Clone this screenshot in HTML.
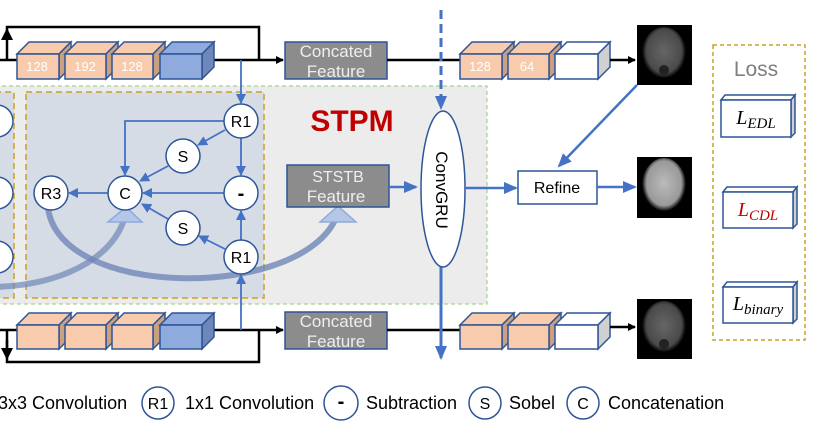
<!DOCTYPE html>
<html><head><meta charset="utf-8"><style>
html,body{margin:0;padding:0;background:#fff;}
svg{display:block;}
text{font-family:"Liberation Sans",Arial,sans-serif;}
text.m,text.m tspan{font-family:"Liberation Serif",serif;font-style:italic;}
</style></head><body>
<svg width="825" height="425" viewBox="0 0 825 425" xmlns="http://www.w3.org/2000/svg">
<defs>
<marker id="ab" markerWidth="8" markerHeight="8" refX="7" refY="4" orient="auto" markerUnits="userSpaceOnUse"><path d="M0,0 L8,4 L0,8 z" fill="#000"/></marker>
<marker id="au" markerWidth="12" markerHeight="12" refX="10" refY="6" orient="auto" markerUnits="userSpaceOnUse"><path d="M0,0 L12,6 L0,12 z" fill="#000"/></marker>
<marker id="bl" markerWidth="10" markerHeight="10" refX="9" refY="5" orient="auto" markerUnits="userSpaceOnUse"><path d="M0,0 L10,5 L0,10 z" fill="#4472c4"/></marker>
<marker id="blb" markerWidth="14" markerHeight="12" refX="12" refY="6" orient="auto" markerUnits="userSpaceOnUse"><path d="M0,0 L14,6 L0,12 z" fill="#4472c4"/></marker>
<radialGradient id="face1" cx="0.5" cy="0.45" r="0.5"><stop offset="0" stop-color="#666"/><stop offset="0.8" stop-color="#4a4a4a"/><stop offset="1" stop-color="#000"/></radialGradient>
<radialGradient id="face2" cx="0.5" cy="0.45" r="0.5"><stop offset="0" stop-color="#bbb"/><stop offset="0.8" stop-color="#999"/><stop offset="1" stop-color="#000"/></radialGradient>
</defs>

<!-- STPM region -->
<rect x="-5" y="86" width="492" height="218" fill="#ececec" stroke="#a9d18e" stroke-width="1.2" stroke-dasharray="4,3"/>
<rect x="-5" y="92" width="19" height="206" fill="#d6dce5" stroke="#c9a227" stroke-width="1.5" stroke-dasharray="6,4"/>
<rect x="26" y="92" width="238" height="206" fill="#d6dce5" stroke="#c9a227" stroke-width="1.5" stroke-dasharray="6,4"/>
<circle cx="-3" cy="121" r="16" fill="#fff" stroke="#2f5597" stroke-width="1.5"/>
<circle cx="-3" cy="193" r="16" fill="#fff" stroke="#2f5597" stroke-width="1.5"/>
<circle cx="-3" cy="257" r="16" fill="#fff" stroke="#2f5597" stroke-width="1.5"/>

<!-- top row -->
<polyline points="7,60 7,27 259,27 259,60" fill="none" stroke="#000" stroke-width="2.5"/>
<line x1="7" y1="40" x2="7" y2="30" stroke="#000" stroke-width="2.5" marker-end="url(#au)"/>
<line x1="0" y1="60" x2="283" y2="60" stroke="#000" stroke-width="2.5" marker-end="url(#ab)"/>
<g stroke="#2f5597" stroke-width="1.5">
<polygon points="17,54 29,42 71,42 59,54" fill="#f8cbad"/><polygon points="59,54 71,42 71,67 59,79" fill="#c9a080"/><rect x="17" y="54" width="42" height="25" fill="#f8cbad"/>
<polygon points="65,54 77,42 118,42 106,54" fill="#f8cbad"/><polygon points="106,54 118,42 118,67 106,79" fill="#c9a080"/><rect x="65" y="54" width="41" height="25" fill="#f8cbad"/>
<polygon points="112,54 124,42 165,42 153,54" fill="#f8cbad"/><polygon points="153,54 165,42 165,67 153,79" fill="#c9a080"/><rect x="112" y="54" width="41" height="25" fill="#f8cbad"/>
<polygon points="160,54 172,42 214,42 202,54" fill="#8faadc"/><polygon points="202,54 214,42 214,67 202,79" fill="#6f87b8"/><rect x="160" y="54" width="42" height="25" fill="#8faadc"/>
</g>
<g fill="#fff" font-size="13" text-anchor="middle"><text x="37" y="71">128</text><text x="85" y="71">192</text><text x="132" y="71">128</text></g>
<rect x="285" y="42" width="102" height="37" fill="#8c8c8c" stroke="#2f5597" stroke-width="1.5"/>
<text x="336" y="57" fill="#eee" font-size="17" text-anchor="middle">Concated</text>
<text x="336" y="77" fill="#eee" font-size="17" text-anchor="middle">Feature</text>
<line x1="387" y1="60" x2="460" y2="60" stroke="#000" stroke-width="2.5"/>
<g stroke="#2f5597" stroke-width="1.5">
<polygon points="460,54 472,42 514,42 502,54" fill="#f8cbad"/><polygon points="502,54 514,42 514,67 502,79" fill="#c9a080"/><rect x="460" y="54" width="42" height="25" fill="#f8cbad"/>
<polygon points="508,54 520,42 561,42 549,54" fill="#f8cbad"/><polygon points="549,54 561,42 561,67 549,79" fill="#c9a080"/><rect x="508" y="54" width="41" height="25" fill="#f8cbad"/>
<polygon points="555,54 567,42 610,42 598,54" fill="#fff"/><polygon points="598,54 610,42 610,67 598,79" fill="#d0d0d0"/><rect x="555" y="54" width="43" height="25" fill="#fff"/>
</g>
<g fill="#fff" font-size="13" text-anchor="middle"><text x="480" y="71">128</text><text x="527" y="71">64</text></g>
<line x1="610" y1="60" x2="635" y2="60" stroke="#000" stroke-width="2.5" marker-end="url(#ab)"/>
<rect x="637" y="25" width="55" height="60" fill="#000"/>
<ellipse cx="664" cy="54" rx="22" ry="27" fill="url(#face1)"/><ellipse cx="664" cy="70" rx="5" ry="5" fill="#222"/>

<!-- bottom row -->
<polyline points="7,330 7,362 259,362 259,330" fill="none" stroke="#000" stroke-width="2.5"/>
<line x1="7" y1="340" x2="7" y2="358" stroke="#000" stroke-width="2.5" marker-end="url(#au)"/>
<line x1="0" y1="330" x2="283" y2="330" stroke="#000" stroke-width="2.5" marker-end="url(#ab)"/>
<g stroke="#2f5597" stroke-width="1.5">
<polygon points="17,325 29,313 71,313 59,325" fill="#f8cbad"/><polygon points="59,325 71,313 71,337 59,349" fill="#c9a080"/><rect x="17" y="325" width="42" height="24" fill="#f8cbad"/>
<polygon points="65,325 77,313 118,313 106,325" fill="#f8cbad"/><polygon points="106,325 118,313 118,337 106,349" fill="#c9a080"/><rect x="65" y="325" width="41" height="24" fill="#f8cbad"/>
<polygon points="112,325 124,313 165,313 153,325" fill="#f8cbad"/><polygon points="153,325 165,313 165,337 153,349" fill="#c9a080"/><rect x="112" y="325" width="41" height="24" fill="#f8cbad"/>
<polygon points="160,325 172,313 214,313 202,325" fill="#8faadc"/><polygon points="202,325 214,313 214,337 202,349" fill="#6f87b8"/><rect x="160" y="325" width="42" height="24" fill="#8faadc"/>
</g>
<rect x="285" y="312" width="102" height="37" fill="#8c8c8c" stroke="#2f5597" stroke-width="1.5"/>
<text x="336" y="327" fill="#eee" font-size="17" text-anchor="middle">Concated</text>
<text x="336" y="347" fill="#eee" font-size="17" text-anchor="middle">Feature</text>
<line x1="387" y1="330" x2="460" y2="330" stroke="#000" stroke-width="2.5"/>
<g stroke="#2f5597" stroke-width="1.5">
<polygon points="460,325 472,313 514,313 502,325" fill="#f8cbad"/><polygon points="502,325 514,313 514,337 502,349" fill="#c9a080"/><rect x="460" y="325" width="42" height="24" fill="#f8cbad"/>
<polygon points="508,325 520,313 561,313 549,325" fill="#f8cbad"/><polygon points="549,325 561,313 561,337 549,349" fill="#c9a080"/><rect x="508" y="325" width="41" height="24" fill="#f8cbad"/>
<polygon points="555,325 567,313 610,313 598,325" fill="#fff"/><polygon points="598,325 610,313 610,337 598,349" fill="#d0d0d0"/><rect x="555" y="325" width="43" height="24" fill="#fff"/>
</g>
<line x1="610" y1="327" x2="635" y2="327" stroke="#000" stroke-width="2.5" marker-end="url(#ab)"/>
<rect x="637" y="299" width="55" height="60" fill="#000"/>
<ellipse cx="664" cy="328" rx="22" ry="27" fill="url(#face1)"/><ellipse cx="664" cy="344" rx="5" ry="5" fill="#222"/>

<!-- curved thick arrows -->
<path d="M48,208 C60,300 300,300 336,218" fill="none" stroke="#6f87b8" stroke-opacity="0.8" stroke-width="6"/>
<polygon points="320,222 338,206 356,222" fill="#b4c7e7" stroke="#8faadc" stroke-width="1.5"/>
<path d="M-5,287 C60,285 110,260 124,220" fill="none" stroke="#6f87b8" stroke-opacity="0.7" stroke-width="6"/>
<polygon points="108,222 126,207 142,222" fill="#b4c7e7" stroke="#8faadc" stroke-width="1.5"/>

<!-- internal blue arrows -->
<g stroke="#4472c4" stroke-width="1.8" fill="none">
<line x1="241" y1="60" x2="241" y2="103" marker-end="url(#bl)"/>
<polyline points="224,121 125,121 125,175" marker-end="url(#bl)"/>
<line x1="225" y1="130" x2="198" y2="145" marker-end="url(#bl)"/>
<line x1="241" y1="138" x2="241" y2="175" marker-end="url(#bl)"/>
<line x1="168" y1="166" x2="140" y2="181" marker-end="url(#bl)"/>
<line x1="224" y1="193" x2="143" y2="193" marker-end="url(#bl)"/>
<line x1="108" y1="193" x2="69" y2="193" marker-end="url(#bl)"/>
<line x1="168" y1="219" x2="142" y2="204" marker-end="url(#bl)"/>
<line x1="241" y1="240" x2="241" y2="211" marker-end="url(#bl)"/>
<line x1="225" y1="249" x2="199" y2="236" marker-end="url(#bl)"/>
<line x1="241" y1="330" x2="241" y2="275" marker-end="url(#bl)"/>
</g>
<g fill="#fff" stroke="#2f5597" stroke-width="1.5">
<circle cx="241" cy="121" r="17"/><circle cx="183" cy="156" r="17"/><circle cx="241" cy="193" r="17"/>
<circle cx="125" cy="193" r="17"/><circle cx="51" cy="193" r="17"/><circle cx="183" cy="228" r="17"/><circle cx="241" cy="257" r="17"/>
</g>
<g font-size="16" text-anchor="middle" fill="#000">
<text x="241" y="127">R1</text><text x="183" y="162">S</text><text x="241" y="200" font-weight="bold" font-size="20">-</text>
<text x="125" y="199">C</text><text x="51" y="199">R3</text><text x="183" y="234">S</text><text x="241" y="263">R1</text>
</g>

<text x="352" y="131" font-size="30" font-weight="bold" fill="#c00000" text-anchor="middle">STPM</text>
<rect x="287" y="165" width="102" height="42" fill="#8c8c8c" stroke="#2f5597" stroke-width="1.5"/>
<text x="338" y="182" fill="#eee" font-size="16" text-anchor="middle">STSTB</text>
<text x="336" y="202" fill="#eee" font-size="17" text-anchor="middle">Feature</text>
<line x1="389" y1="187" x2="416" y2="187" stroke="#4472c4" stroke-width="2.5" marker-end="url(#blb)"/>

<!-- ConvGRU -->
<line x1="441" y1="10" x2="441" y2="108" stroke="#4472c4" stroke-width="3" stroke-dasharray="9,5" marker-end="url(#blb)"/>
<line x1="441" y1="267" x2="441" y2="358" stroke="#4472c4" stroke-width="3" marker-end="url(#blb)"/>
<ellipse cx="443" cy="189" rx="22" ry="78" fill="#fff" stroke="#2f5597" stroke-width="1.5"/>
<text x="0" y="0" font-size="17" text-anchor="middle" transform="translate(436,190) rotate(90)">ConvGRU</text>
<line x1="465" y1="188" x2="516" y2="188" stroke="#4472c4" stroke-width="2.5" marker-end="url(#blb)"/>
<rect x="518" y="171" width="79" height="33" fill="#fff" stroke="#2f5597" stroke-width="1.5"/>
<text x="557" y="193" font-size="16" text-anchor="middle">Refine</text>
<line x1="597" y1="187" x2="635" y2="187" stroke="#4472c4" stroke-width="2.5" marker-end="url(#blb)"/>
<line x1="637" y1="85" x2="559" y2="166" stroke="#4472c4" stroke-width="2.5" marker-end="url(#blb)"/>
<rect x="637" y="157" width="55" height="61" fill="#000"/>
<ellipse cx="664" cy="186" rx="22" ry="28" fill="url(#face2)"/>

<!-- Loss -->
<rect x="713" y="45" width="92" height="295" fill="none" stroke="#c9a227" stroke-width="1.5" stroke-dasharray="4,3"/>
<text x="756" y="76" font-size="21" fill="#7f7f7f" text-anchor="middle">Loss</text>
<g stroke="#2f5597" stroke-width="1.5">
<polygon points="721,100 725,95 795,95 791,100" fill="#fff"/><polygon points="791,100 795,95 795,133 791,137" fill="#d0d0d0"/><rect x="721" y="100" width="70" height="37" fill="#fff"/>
<polygon points="723,192 727,187 797,187 793,192" fill="#fff"/><polygon points="793,192 797,187 797,224 793,228" fill="#d0d0d0"/><rect x="723" y="192" width="70" height="36" fill="#fff"/>
<polygon points="723,287 727,282 797,282 793,287" fill="#fff"/><polygon points="793,287 797,282 797,319 793,323" fill="#d0d0d0"/><rect x="723" y="287" width="70" height="36" fill="#fff"/>
</g>
<text class="m" x="756" y="124" font-size="20" text-anchor="middle">L<tspan font-size="15" dy="4">EDL</tspan></text>
<text class="m" x="758" y="216" font-size="20" fill="#c00000" text-anchor="middle">L<tspan font-size="15" dy="4">CDL</tspan></text>
<text class="m" x="758" y="310" font-size="20" text-anchor="middle">L<tspan font-size="15" dy="4">binary</tspan></text>

<!-- Legend -->
<g font-size="18" fill="#000">
<text x="-2" y="409">3x3 Convolution</text>
<text x="185" y="409">1x1 Convolution</text>
<text x="366" y="409">Subtraction</text>
<text x="509" y="409">Sobel</text>
<text x="608" y="409">Concatenation</text>
</g>
<g fill="#fff" stroke="#2f5597" stroke-width="1.5">
<circle cx="158" cy="403" r="16"/><circle cx="341" cy="403" r="17"/><circle cx="485" cy="403" r="16"/><circle cx="583" cy="403" r="16"/>
</g>
<g font-size="16" text-anchor="middle" fill="#000">
<text x="158" y="409">R1</text><text x="341" y="408" font-weight="bold" font-size="20">-</text><text x="485" y="409">S</text><text x="583" y="409">C</text>
</g>
</svg>
</body></html>
